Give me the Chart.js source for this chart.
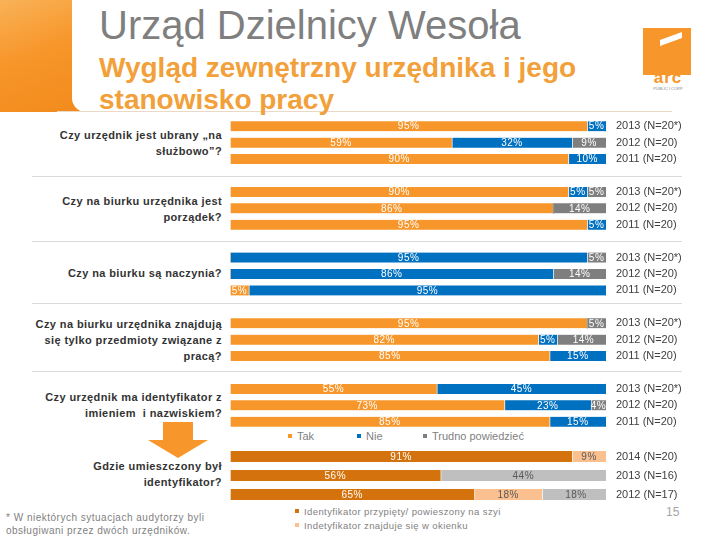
<!DOCTYPE html>
<html lang="pl">
<head>
<meta charset="UTF-8">
<title>Urząd Dzielnicy Wesoła</title>
<script src="https://cdn.jsdelivr.net/npm/chart.js"></script>
<style>
  html, body { margin: 0; padding: 0; background: #fff; }
  #page { position: relative; width: 720px; height: 540px; overflow: hidden; font-family: "Liberation Sans", Arial, sans-serif; }
  .abs { position: absolute; }
  .q { position: absolute; left: 0; width: 222px; text-align: right; white-space: nowrap;
       font-weight: bold; font-size: 11px; letter-spacing: 0.4px; line-height: 16px; color: #333; }
  .sep { position: absolute; left: 32px; width: 650px; height: 1px; background: #dadada; }
  .leg { position: absolute; font-size: 11px; color: #7f7f7f; white-space: nowrap; }
  .leg i { display: inline-block; width: 4px; height: 4px; margin-right: 5px; vertical-align: middle; position: relative; top: -1px; }
  .leg2 { font-size: 9.5px; letter-spacing: 0.4px; }
</style>
</head>
<body>
<div id="page">
  <!-- header -->
  <div class="abs" style="left:0;top:0;width:95px;height:112px;background:linear-gradient(160deg,#f9b257 0%,#f7962a 45%,#f28a1c 100%);"></div>
  <div class="abs" style="left:72px;top:0;width:648px;height:112px;background:#fff;border-bottom-left-radius:14px;"></div>
  <div class="abs" style="left:57px;top:111px;width:615px;height:1px;background:#ead9c6;"></div>
  <div class="abs" style="left:99px;top:2px;font-size:40px;line-height:46px;color:#7f7f7f;white-space:nowrap;">Urząd Dzielnicy Wesoła</div>
  <div class="abs" style="left:99px;top:52px;font-size:28px;font-weight:bold;line-height:32px;color:#f2a03a;white-space:nowrap;">Wygląd zewnętrzny urzędnika i jego<br>stanowisko pracy</div>
  <!-- logo -->
  <div class="abs" style="left:643px;top:28px;width:48px;height:47px;background:#f7962a;"></div>
  <div class="abs" style="left:660px;top:36px;width:22px;height:6px;background:#fff;transform:skewY(-20deg);"></div>
  <div class="abs" style="left:644px;top:68px;width:48px;text-align:center;font-size:17px;font-weight:bold;color:#f7962a;letter-spacing:1px;">arc</div>
  <div class="abs" style="left:644px;top:86px;width:48px;text-align:center;font-size:4px;color:#888;">PUBLIC I CORP</div>

  <!-- questions -->
  <div class="q" style="top:127px;">Czy urzędnik jest ubrany „na<br>służbowo”?</div>
  <div class="q" style="top:193px;">Czy na biurku urzędnika jest<br>porządek?</div>
  <div class="q" style="top:265px;">Czy na biurku są naczynia?</div>
  <div class="q" style="top:316px;">Czy na biurku urzędnika znajdują<br>się tylko przedmioty związane z<br>pracą?</div>
  <div class="q" style="top:389px;">Czy urzędnik ma identyfikator z<br>imieniem&nbsp; i nazwiskiem?</div>
  <div class="q" style="top:458px;">Gdzie umieszczony był<br>identyfikator?</div>

  <!-- arrow -->
  <div class="abs" style="left:163px;top:422px;width:30px;height:19px;background:#f7962a;"></div>
  <div class="abs" style="left:148px;top:440px;width:0;height:0;border-left:30px solid transparent;border-right:30px solid transparent;border-top:18px solid #f7962a;"></div>

  <div class="sep" style="top:176px;"></div>
  <div class="sep" style="top:241px;"></div>
  <div class="sep" style="top:303px;"></div>
  <div class="sep" style="top:371px;"></div>

  <canvas id="mainChart" class="abs" style="left:230px;top:118px;"></canvas>
  <canvas id="idChart" class="abs" style="left:230px;top:447px;"></canvas>

  <div class="leg" style="left:288px;top:430px;"><i style="background:#f7962a"></i>Tak</div>
  <div class="leg" style="left:357px;top:430px;"><i style="background:#0070c0"></i>Nie</div>
  <div class="leg" style="left:423px;top:430px;"><i style="background:#7f7f7f"></i>Trudno powiedzieć</div>

  <div class="leg leg2" style="left:295px;top:506px;"><i style="background:#d4730e"></i>Identyfikator przypięty/ powieszony na szyi</div>
  <div class="leg leg2" style="left:295px;top:520px;"><i style="background:#fac08f"></i>Indetyfikator znajduje się w okienku</div>

  <div class="abs" style="left:6px;top:511px;font-size:10px;letter-spacing:0.5px;line-height:13px;color:#7f7f7f;white-space:nowrap;">* W niektórych sytuacjach audytorzy byli<br>obsługiwani przez dwóch urzędników.</div>
  <div class="abs" style="left:666px;top:505px;font-size:12px;color:#a6a6a6;">15</div>
</div>

<script>
// rows of the main chart (empty labels are gaps between questions)
var rowLabels = [
  '2013 (N=20*)', '2012 (N=20)', '2011 (N=20)', '',
  '2013 (N=20*)', '2012 (N=20)', '2011 (N=20)', '',
  '2013 (N=20*)', '2012 (N=20)', '2011 (N=20)', '',
  '2013 (N=20*)', '2012 (N=20)', '2011 (N=20)', '',
  '2013 (N=20*)', '2012 (N=20)', '2011 (N=20)'
];
var takValues    = [95, 59, 90, null, 90, 86, 95, null,  0,  0,  5, null, 95, 82, 85, null, 55, 73, 85];
var nieValues    = [ 5, 32, 10, null,  5,  0,  5, null, 95, 86, 95, null,  0,  5, 15, null, 45, 23, 15];
var trudnoValues = [ 0,  9,  0, null,  5, 14,  0, null,  5, 14,  0, null,  5, 14,  0, null,  0,  4,  0];

// where the badge was placed
var idRowLabels = ['2014 (N=20)', '2013 (N=16)', '2012 (N=17)'];
var przypietyValues = [91, 56, 65];
var okienkoValues   = [ 9,  0, 18];
var inneValues      = [ 0, 44, 18];

var barLabels = {
    id: 'barLabels',
    afterDatasetsDraw: function (chart, args, opts) {
        var ctx = chart.ctx;
        ctx.save();
        ctx.font = '10px "Liberation Sans", Arial, sans-serif';
        ctx.letterSpacing = '0.5px';
        ctx.textAlign = 'center';
        ctx.textBaseline = 'middle';
        chart.data.datasets.forEach(function (ds, i) {
            chart.getDatasetMeta(i).data.forEach(function (bar, j) {
                var v = ds.data[j];
                if (!v) return;
                ctx.fillStyle = opts.colors[i];
                ctx.fillText(v + '%', (bar.base + bar.x) / 2, bar.y + 0.5);
            });
        });
        ctx.restore();
    }
};

function makeOptions(labelColors) {
    return {
        indexAxis: 'y',
        responsive: false,
        animation: false,
        layout: { padding: 0 },
        plugins: { legend: { display: false }, tooltip: { enabled: false }, barLabels: { colors: labelColors } },
        scales: {
            x: { stacked: true, min: 0, max: 100, display: false },
            y: {
                stacked: true,
                position: 'right',
                grid: { display: false, drawTicks: false },
                border: { display: false },
                ticks: { padding: 10, color: '#404040', font: { family: '"Liberation Sans", Arial, sans-serif', size: 11 } },
                afterFit: function (scale) {
                    scale.width = 114;
                    scale.paddingTop = 0;
                    scale.paddingBottom = 0;
                }
            }
        }
    };
}

function segment(label, data, color, thickness) {
    return {
        label: label, data: data, backgroundColor: color,
        borderColor: '#ffffff', borderWidth: { left: 1, right: 0, top: 0, bottom: 0 },
        borderSkipped: false, barThickness: thickness
    };
}

var mainCanvas = document.getElementById('mainChart');
mainCanvas.width = 490; mainCanvas.height = 312;
new Chart(mainCanvas.getContext('2d'), {
    type: 'bar',
    data: {
        labels: rowLabels,
        datasets: [
            segment('Tak', takValues, '#f7962a', 10),
            segment('Nie', nieValues, '#0070c0', 10),
            segment('Trudno powiedzieć', trudnoValues, '#7f7f7f', 10)
        ]
    },
    options: makeOptions(['#ffffff', '#ffffff', '#ffffff']),
    plugins: [barLabels]
});

var idCanvas = document.getElementById('idChart');
idCanvas.width = 490; idCanvas.height = 57;
new Chart(idCanvas.getContext('2d'), {
    type: 'bar',
    data: {
        labels: idRowLabels,
        datasets: [
            segment('Identyfikator przypięty/ powieszony na szyi', przypietyValues, '#d4730e', 11),
            segment('Indetyfikator znajduje się w okienku', okienkoValues, '#fac08f', 11),
            segment('Inne', inneValues, '#bfbfbf', 11)
        ]
    },
    options: makeOptions(['#ffffff', '#595959', '#595959']),
    plugins: [barLabels]
});
</script>
</body>
</html>
